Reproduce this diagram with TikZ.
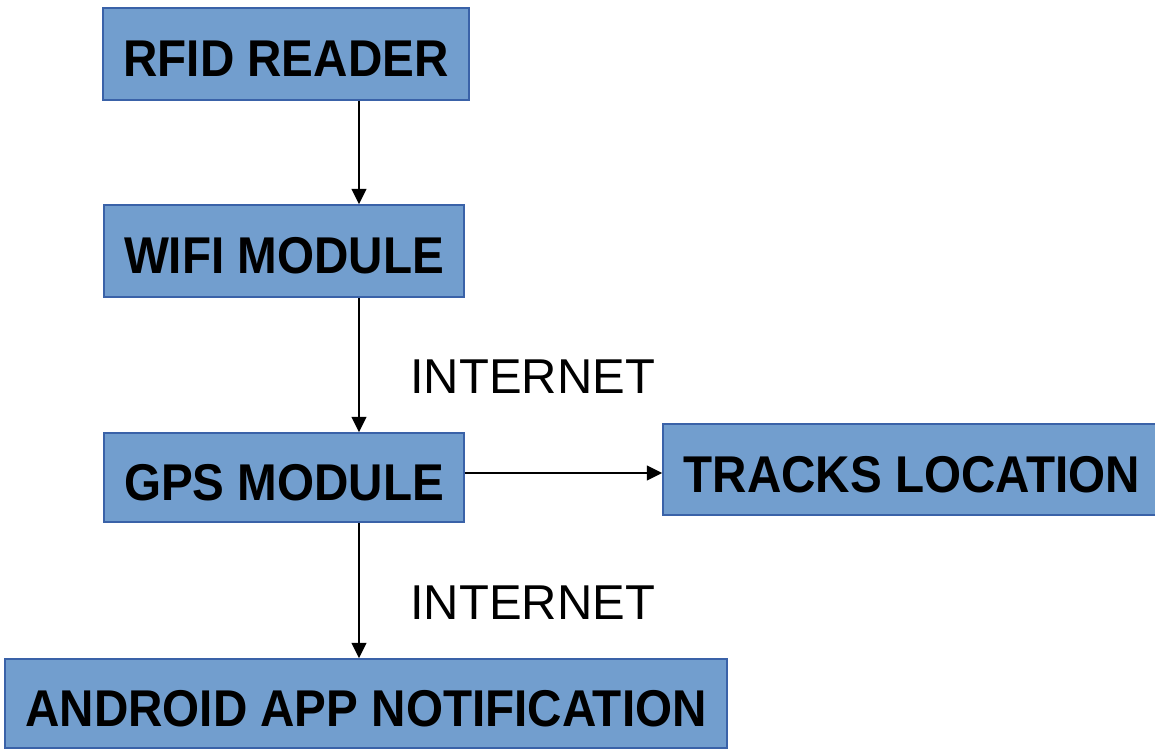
\documentclass[tikz,border=0pt]{standalone}
\usepackage{fontspec}
\setmainfont{Liberation Sans}
\newfontfamily\boxfont{Liberation Sans}[FakeStretch=0.92]
\usetikzlibrary{arrows.meta}
\definecolor{boxfill}{RGB}{114,158,206}
\definecolor{boxline}{RGB}{58,98,168}
\tikzset{
  blockbox/.style={draw=boxline, fill=boxfill, line width=1.1pt, inner sep=0pt,
    font=\boxfont\bfseries\fontsize{38.8pt}{40pt}\selectfont,
    text height=34pt, text depth=0pt, align=center},
  arr/.style={line width=1.6pt, -{Triangle[length=11.5pt,width=11pt]}},
  netlabel/.style={font=\fontsize{36.7pt}{38pt}\selectfont, inner sep=0pt, anchor=west}
}
\begin{document}
\begin{tikzpicture}[x=0.75pt,y=-0.75pt]
\useasboundingbox (0,0) rectangle (1155,749);
\node[blockbox, minimum width=274.5pt, minimum height=69pt] (rfid) at (286,54) {RFID READER};
\node[blockbox, minimum width=270pt, minimum height=69pt] (wifi) at (284,251) {WIFI MODULE};
\node[blockbox, minimum width=270pt, minimum height=66.75pt] (gps) at (284,477.5) {GPS MODULE};
\node[blockbox, minimum width=373.5pt, minimum height=68.25pt] (tracks) at (912,469.5) {TRACKS LOCATION};
\node[blockbox, minimum width=541.5pt, minimum height=66.75pt] (android) at (366,703.5) {ANDROID APP NOTIFICATION};
\coordinate (xline) at (359,0);
\coordinate (yline) at (0,473);
\draw[arr] (rfid.south -| xline) -- (wifi.north -| xline);
\draw[arr] (wifi.south -| xline) -- (gps.north -| xline);
\draw[arr] (gps.south -| xline) -- (android.north -| xline);
\draw[arr] (gps.east |- yline) -- (tracks.west |- yline);
\node[netlabel] (net1) at (410,377) {INTERNET};
\node[netlabel] (net2) at (410,603) {INTERNET};
\end{tikzpicture}
\end{document}
